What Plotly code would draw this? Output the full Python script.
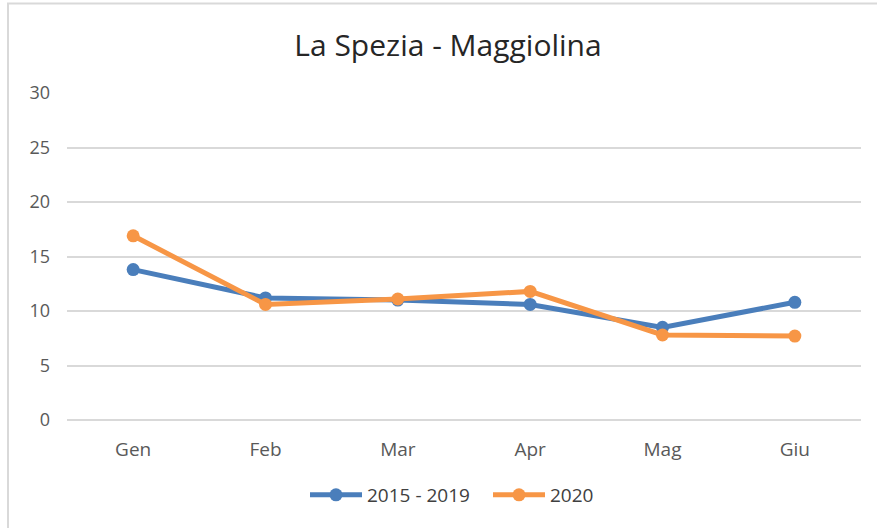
import plotly.graph_objects as go

months = ["Gen", "Feb", "Mar", "Apr", "Mag", "Giu"]
series_2015_2019 = [13.8, 11.2, 11.0, 10.6, 8.5, 10.8]
series_2020 = [16.9, 10.6, 11.1, 11.8, 7.8, 7.7]
y_ticks = [0, 5, 10, 15, 20, 25, 30]

W, H = 877, 528
L, R, T, B = 67, 16, 93, 108
pw = W - L - R
ph = H - T - B

FONT = "Open Sans, Liberation Sans, sans-serif"

fig = go.Figure()
fig.add_trace(go.Scatter(x=months, y=series_2015_2019, name="2015 - 2019",
                         mode="lines+markers",
                         line=dict(color="#4a7ebb", width=5),
                         marker=dict(size=13, color="#4a7ebb")))
fig.add_trace(go.Scatter(x=months, y=series_2020, name="2020",
                         mode="lines+markers",
                         line=dict(color="#f79646", width=5),
                         marker=dict(size=13, color="#f79646")))

# outer chart border (left at x=8, top at y=3; right/bottom off-canvas)
fig.add_shape(type="rect", xref="paper", yref="paper",
              x0=(8 - L) / pw, x1=(W + 20 - L) / pw,
              y0=-(H + 20 - (H - B)) / ph, y1=((H - B) - 3.5) / ph,
              line=dict(color="#d9d9d9", width=2), layer="below")

fig.update_layout(
    width=W, height=H,
    margin=dict(l=L, r=R, t=T, b=B),
    paper_bgcolor="white", plot_bgcolor="white",
    title=dict(text="La Spezia - Maggiolina", x=448 / W, xanchor="center",
               y=1 - 45 / H, yanchor="middle",
               font=dict(family=FONT, size=30, color="#262626")),
    font=dict(family=FONT, color="#595959", size=18),
    xaxis=dict(showgrid=False, showline=False, ticks="", range=[-0.5, 5.5],
               ticklabelstandoff=16, tickfont=dict(size=19, color="#595959")),
    yaxis=dict(range=[0, 30], tickvals=y_ticks, showgrid=True, gridcolor="#d9d9d9",
               gridwidth=1.5, zeroline=True, zerolinecolor="#d9d9d9", zerolinewidth=1.5,
               ticks="", ticklabelstandoff=16, tickfont=dict(size=18, color="#595959")),
    legend=dict(orientation="h", x=(305 - L) / pw, xanchor="left",
                y=-(495 - (H - B)) / ph, itemwidth=52, entrywidth=116,
                entrywidthmode="pixels",
                yanchor="middle", font=dict(size=19, color="#404040")),
    showlegend=True,
)

fig.write_html("out.html", config={"displayModeBar": False},
               post_script="document.body.style.margin='0';document.body.style.overflow='hidden';")
